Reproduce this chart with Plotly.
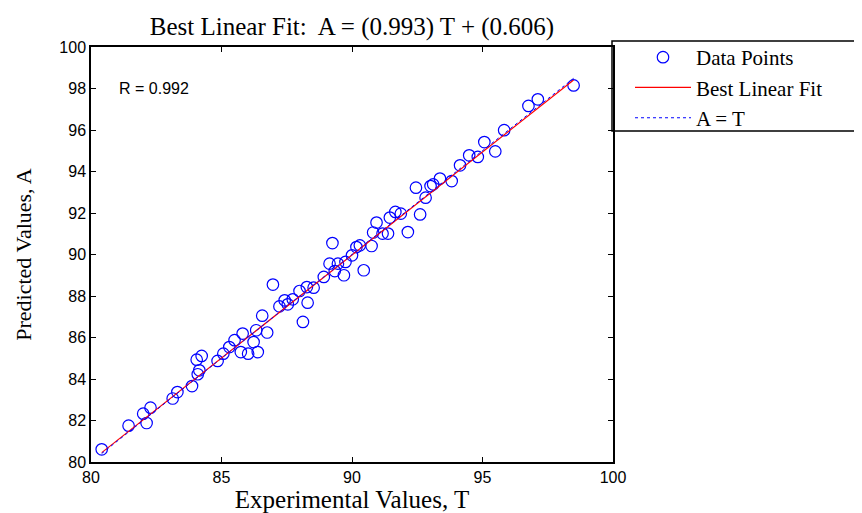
import plotly.graph_objects as go

# Data
T = [80.41, 81.44, 82.00, 82.13, 82.28, 83.13, 83.31, 83.87, 84.09, 84.15,
     84.05, 84.24, 84.85, 85.07, 85.30, 85.50, 85.81, 85.74, 86.02, 86.23,
     86.33, 86.39, 86.56, 86.75, 86.97, 87.22, 87.42, 87.54, 87.73, 87.99,
     88.12, 88.30, 88.27, 88.53, 88.92, 89.14, 89.25, 89.34, 89.46, 89.69,
     89.75, 90.00, 90.17, 90.30, 90.45, 90.75, 90.81, 90.94, 91.17, 91.38,
     91.45, 91.66, 91.87, 92.14, 92.61, 92.45, 92.82, 93.01, 93.11, 93.37,
     93.82, 94.14, 94.49, 94.82, 95.07, 95.49, 95.83, 96.76, 97.12, 98.49]
A = [80.61, 81.75, 82.33, 81.88, 82.62, 83.06, 83.37, 83.66, 84.23, 84.42,
     84.93, 85.11, 84.87, 85.22, 85.54, 85.87, 86.19, 85.30, 85.22, 85.78,
     86.35, 85.30, 87.05, 86.24, 88.55, 87.50, 87.79, 87.60, 87.84, 88.24,
     86.75, 87.68, 88.43, 88.40, 88.92, 89.56, 90.55, 89.20, 89.56, 89.00,
     89.64, 89.96, 90.36, 90.44, 89.24, 90.41, 91.06, 91.54, 91.01, 91.01,
     91.78, 92.05, 91.97, 91.08, 91.93, 93.22, 92.74, 93.30, 93.38, 93.66,
     93.54, 94.30, 94.78, 94.70, 95.42, 94.97, 95.99, 97.16, 97.48, 98.15]
fit_slope = 0.993
fit_intercept = 0.606
r_value = 0.992
x_ticks = [80, 85, 90, 95, 100]
y_ticks = [80, 82, 84, 86, 88, 90, 92, 94, 96, 98, 100]

t_line = [min(T), max(T)]
fit_line = [fit_slope * t + fit_intercept for t in t_line]

serif = "Liberation Serif, Times New Roman, serif"
sans = "Liberation Sans, Arial, sans-serif"

# the page body adds an 8 px offset; figure size is reduced accordingly
W, H = 854, 505

fig = go.Figure()
fig.add_trace(go.Scatter(
    x=T, y=A, mode="markers", name="Data Points",
    marker=dict(symbol="circle-open", size=11.5, color="#0000ff", line=dict(width=1.2, color="#0000ff")),
))
fig.add_trace(go.Scatter(
    x=t_line, y=fit_line, mode="lines", name="Best Linear Fit",
    line=dict(color="#ff0000", width=1.2),
))
fig.add_trace(go.Scatter(
    x=t_line, y=t_line, mode="lines", name="A = T",
    line=dict(color="#0000ff", width=1, dash="dot"),
))

axis_common = dict(
    showgrid=False, zeroline=False, showline=True, linecolor="black", linewidth=1.5,
    mirror="allticks", ticks="inside", ticklen=5, tickcolor="black", automargin=False,
    tickfont=dict(family=sans, size=16, color="black"),
)

fig.update_layout(
    width=W, height=H,
    margin=dict(l=83, r=249, t=39, b=51, autoexpand=False),
    paper_bgcolor="white", plot_bgcolor="white",
    title=dict(text="Best Linear Fit:  A = (0.993) T + (0.606)", x=0.5, xref="paper",
               y=1 - 18 / H, yref="container", yanchor="middle",
               font=dict(family=serif, size=25, color="black")),
    xaxis=dict(range=[80, 100], tickvals=x_ticks, ticktext=[str(v) for v in x_ticks],
               title=dict(text="Experimental Values, T", font=dict(family=serif, size=25, color="black"), standoff=3),
               **axis_common),
    yaxis=dict(range=[80, 100], tickvals=y_ticks, ticktext=[str(v) for v in y_ticks],
               title=dict(text="Predicted Values, A", font=dict(family=serif, size=22, color="black"), standoff=22),
               **axis_common),
    legend=dict(x=622 / W, xref="container", xanchor="left", y=1 - 29 / H, yref="container", yanchor="top",
                font=dict(family=serif, size=21, color="black"),
                bgcolor="rgba(0,0,0,0)", borderwidth=0, itemwidth=56,
                tracegroupgap=0),
    showlegend=True,
    shapes=[dict(type="rect", xref="paper", yref="paper", x0=(612 - 91) / 522, x1=1.6,
                 y0=(462 - 131) / 415, y1=(462 - 41) / 415,
                 line=dict(color="black", width=1.5), fillcolor="rgba(0,0,0,0)", layer="above")],
    annotations=[dict(x=81.0, y=98, xref="x", yref="y", text="R = %.3f" % r_value, showarrow=False,
                      xanchor="left", yanchor="middle", font=dict(family=sans, size=16, color="black"))],
)

fig.write_html("out.html")
